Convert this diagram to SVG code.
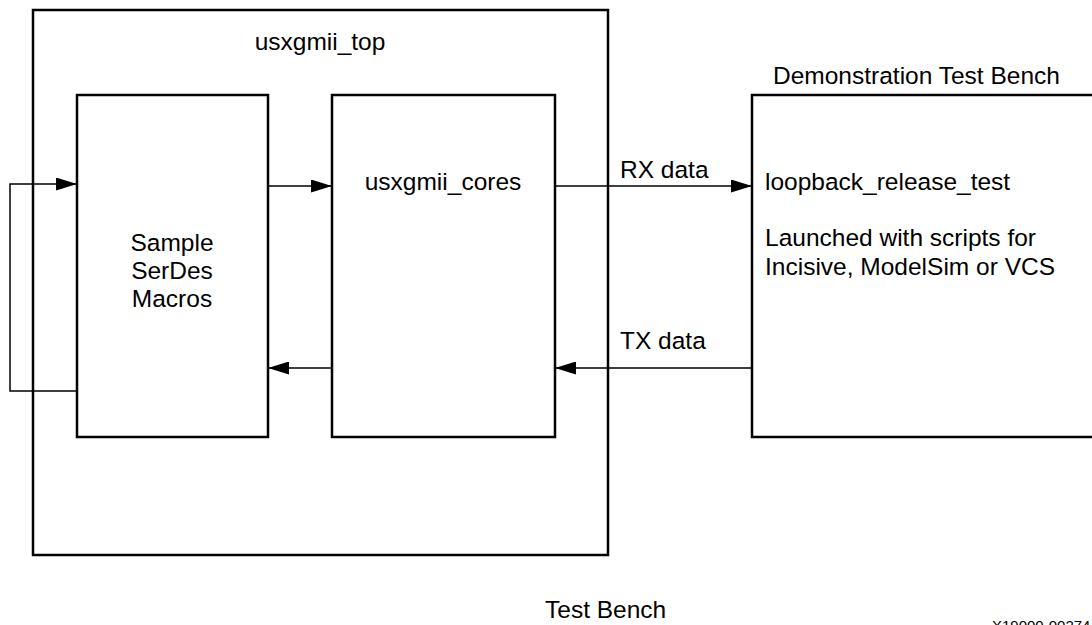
<svg xmlns="http://www.w3.org/2000/svg" width="1092" height="625" viewBox="0 0 1092 625">
<style>
.box{fill:#fff;stroke:#000;stroke-width:2.5}
.con{fill:none;stroke:#000;stroke-width:1.5}
text{font-family:"Liberation Sans",Arial,sans-serif;font-size:24.5px;fill:#000}
.c{text-anchor:middle}
</style>
<defs>
<marker id="arr" markerUnits="userSpaceOnUse" markerWidth="21" markerHeight="13" refX="21" refY="6.5" orient="auto">
<path d="M0,0 L21,6.5 L0,13 z" fill="#000"/>
</marker>
</defs>
<rect width="1092" height="625" fill="#fff"/>
<g id="usxgmii_top">
<rect class="box" x="33" y="10" width="575" height="545"/>
<text class="c" x="320" y="50">usxgmii_top</text>
</g>
<g id="serdes">
<rect class="box" x="77" y="95" width="191" height="342"/>
<text class="c" x="172" y="251">Sample</text>
<text class="c" x="172" y="279">SerDes</text>
<text class="c" x="172" y="307">Macros</text>
</g>
<g id="usxgmii_cores">
<rect class="box" x="332" y="95" width="223" height="342"/>
<text class="c" x="443" y="190">usxgmii_cores</text>
</g>
<g id="demo_tb">
<text x="773" y="84">Demonstration Test Bench</text>
<rect class="box" x="752" y="95" width="345" height="342"/>
<text x="765" y="190">loopback_release_test</text>
<text x="765" y="246">Launched with scripts for</text>
<text x="765" y="275">Incisive, ModelSim or VCS</text>
</g>
<g id="connectors">
<polyline class="con" points="77,391 10,391 10,184 77,184" marker-end="url(#arr)"/>
<line class="con" x1="268" y1="186" x2="332" y2="186" marker-end="url(#arr)"/>
<line class="con" x1="332" y1="368" x2="268" y2="368" marker-end="url(#arr)"/>
<line class="con" x1="555" y1="186" x2="752" y2="186" marker-end="url(#arr)"/>
<line class="con" x1="752" y1="368" x2="555" y2="368" marker-end="url(#arr)"/>
<text x="620" y="178">RX data</text>
<text x="620" y="349">TX data</text>
</g>
<text x="545" y="618">Test Bench</text>
<text x="992" y="631" style="font-size:15px">X19000-00274</text>
</svg>
